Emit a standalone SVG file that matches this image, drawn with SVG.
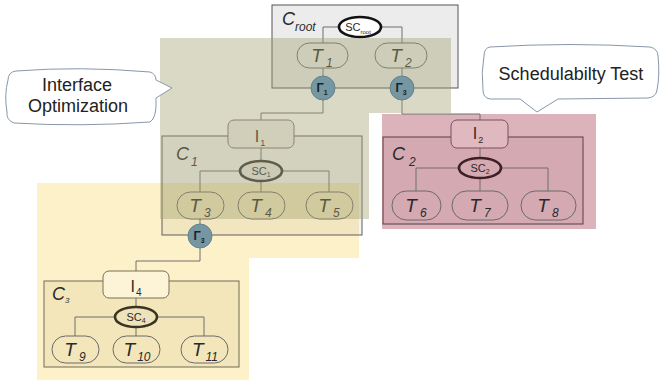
<svg xmlns="http://www.w3.org/2000/svg" width="661" height="383" viewBox="0 0 661 383">
<style>
text{font-family:"Liberation Sans",Arial,sans-serif;fill:#2a2a2a}
.tk{fill:none;stroke:#6a6a6a;stroke-width:1}
.tl{font-size:19px;font-style:italic;text-anchor:middle}
.ts{font-size:12px}
.il{font-size:16px;text-anchor:middle}
.sc{stroke-width:2.6}
.scl{font-size:11px;text-anchor:middle}
.gm{fill:#7696a2;stroke:#64838f;stroke-width:1}
.gl{font-size:12px;font-weight:bold;fill:#15252b;text-anchor:middle}
.ln{fill:none;stroke:#6e6e6e;stroke-width:1}
.bub{fill:#ffffff;stroke:#8797ab;stroke-width:1}
.bt{font-size:18px;text-anchor:middle;fill:#222}
.cl{font-style:italic;font-size:18px}
</style>

<!-- background regions -->
<rect x="382" y="114" width="214" height="115" fill="#dcb3bb"/>
<polygon points="37,183 359,183 359,258 249,258 249,380 37,380" fill="#fdf1c9"/>

<!-- container boxes -->
<g id="C_root">
<rect x="272" y="5" width="186" height="83" fill="#ececec" stroke="#555" stroke-width="1"/>
<text class="cl" x="282" y="25">C<tspan font-size="12" dy="6">root</tspan></text>
</g>
<g id="C_1">
<rect x="162" y="136" width="200" height="99" fill="rgba(0,0,0,0.045)" stroke="#5e5e5e" stroke-width="1"/>
<text class="cl" x="176" y="160">C<tspan font-size="12" dy="6" dx="2">1</tspan></text>
</g>
<g id="C_2">
<rect x="383" y="137" width="200" height="87" fill="rgba(90,20,40,0.06)" stroke="#5e3a42" stroke-width="1"/>
<text class="cl" x="392" y="160" fill="#3a2228">C<tspan font-size="12" dy="6" dx="4">2</tspan></text>
</g>
<g id="C_3">
<rect x="44" y="281" width="195" height="86" fill="rgba(120,90,20,0.07)" stroke="#6f6a55" stroke-width="1"/>
<text class="cl" x="52" y="300" font-size="12">C<tspan font-size="8" dy="3">3</tspan></text>
</g>

<!-- connectors -->
<g id="connectors">
<path class="ln" d="M323 43 V27 H402 V43"/>
<path class="ln" d="M323 68 V113 H261 V120"/>
<path class="ln" d="M402 68 V114 H480 V120"/>
<path class="ln" d="M261 148 V171"/>
<path class="ln" d="M200 192 V171 H329 V192 M261 171 V192"/>
<path class="ln" d="M200 219 V261 H136 V271"/>
<path class="ln" stroke="#5e3a42" d="M480 148 V168 M416 191 V168 H548 V191 M480 168 V191"/>
<path class="ln" stroke="#6f6a55" d="M136 298 V317 M75 336 V317 H204 V336 M136 317 V336"/>
</g>

<!-- root nodes -->
<g id="SC_root">
<ellipse cx="360" cy="27" rx="21" ry="10" fill="#fff" stroke="#111" class="sc"/>
<text class="scl" x="358" y="31">SC<tspan font-size="6" dy="3">root</tspan></text>
</g>
<g id="T1">
<rect class="tk" x="297" y="43" width="51" height="25" rx="12.5"/>
<text class="tl" x="322" y="62">T<tspan class="ts" dx="3" dy="5">1</tspan></text>
</g>
<g id="T2">
<rect class="tk" x="375" y="43" width="52" height="25" rx="12.5"/>
<text class="tl" x="401" y="62">T<tspan class="ts" dx="3" dy="5">2</tspan></text>
</g>

<!-- C1 nodes -->
<g id="I1">
<rect x="228" y="120" width="66" height="28" rx="6" fill="#f0efec" stroke="#777"/>
<text class="il" x="260" y="142">I<tspan font-size="9" dx="1" dy="4">1</tspan></text>
</g>
<g id="SC1">
<ellipse cx="261" cy="171" rx="21" ry="10" fill="#e6e6e6" stroke="#333" class="sc"/>
<text class="scl" x="261" y="175">SC<tspan font-size="7" dy="2">1</tspan></text>
</g>
<g id="T3">
<rect class="tk" x="177" y="192" width="47" height="27" rx="13.5"/>
<text class="tl" x="200" y="212">T<tspan class="ts" dx="3" dy="5">3</tspan></text>
</g>
<g id="T4">
<rect class="tk" x="238" y="192" width="47" height="27" rx="13.5"/>
<text class="tl" x="261" y="212">T<tspan class="ts" dx="3" dy="5">4</tspan></text>
</g>
<g id="T5">
<rect class="tk" x="306" y="192" width="47" height="27" rx="13.5"/>
<text class="tl" x="329" y="212">T<tspan class="ts" dx="3" dy="5">5</tspan></text>
</g>

<!-- C2 nodes -->
<g id="I2">
<rect x="451" y="120" width="57" height="28" rx="6" fill="#dfb8c0" stroke="#7a5058"/>
<text class="il" x="478" y="139" fill="#3a2228">I<tspan font-size="9" dx="1" dy="4">2</tspan></text>
</g>
<g id="SC2">
<ellipse cx="480" cy="168" rx="21" ry="10" fill="#d4a9b1" stroke="#3e1f24" class="sc"/>
<text class="scl" x="480" y="172" fill="#3a2228">SC<tspan font-size="7" dy="2">2</tspan></text>
</g>
<g id="T6">
<rect class="tk" stroke="#7a5058" x="392" y="191" width="49" height="29" rx="14.5"/>
<text class="tl" x="416" y="212" fill="#2e1a1e">T<tspan class="ts" dx="3" dy="5">6</tspan></text>
</g>
<g id="T7">
<rect class="tk" stroke="#7a5058" x="452" y="191" width="56" height="29" rx="14.5"/>
<text class="tl" x="480" y="212" fill="#2e1a1e">T<tspan class="ts" dx="3" dy="5">7</tspan></text>
</g>
<g id="T8">
<rect class="tk" stroke="#7a5058" x="521" y="191" width="55" height="29" rx="14.5"/>
<text class="tl" x="548" y="212" fill="#2e1a1e">T<tspan class="ts" dx="3" dy="5">8</tspan></text>
</g>

<!-- C3 nodes -->
<g id="I4">
<rect x="103" y="271" width="66" height="27" rx="6" fill="#fdf4d8" stroke="#777055"/>
<text class="il" x="136" y="292" font-size="17">I<tspan font-size="10" dx="1" dy="4">4</tspan></text>
</g>
<g id="SC4">
<ellipse cx="136" cy="317" rx="21" ry="10" fill="#efe3bb" stroke="#3a3520" class="sc"/>
<text class="scl" x="136" y="321">SC<tspan font-size="7" dy="2">4</tspan></text>
</g>
<g id="T9">
<rect class="tk" stroke="#7a7358" x="52" y="336" width="47" height="27" rx="13.5"/>
<text class="tl" x="75" y="356">T<tspan class="ts" dx="3" dy="5">9</tspan></text>
</g>
<g id="T10">
<rect class="tk" stroke="#7a7358" x="113" y="336" width="47" height="27" rx="13.5"/>
<text class="tl" x="137" y="356">T<tspan class="ts" dx="2" dy="5">10</tspan></text>
</g>
<g id="T11">
<rect class="tk" stroke="#7a7358" x="181" y="336" width="47" height="27" rx="13.5"/>
<text class="tl" x="205" y="356">T<tspan class="ts" dx="2" dy="5">11</tspan></text>
</g>

<!-- olive overlay -->
<polygon points="160,38 451,38 451,113 369,113 369,219 160,219" fill="#a3a16e" opacity="0.4"/>

<!-- interface nodes -->
<g id="Gamma1">
<circle class="gm" cx="323" cy="88" r="12"/>
<text class="gl" x="322" y="92">Γ<tspan font-size="7" dy="3">1</tspan></text>
</g>
<g id="Gamma3_root">
<circle class="gm" cx="402" cy="88" r="12"/>
<text class="gl" x="401" y="92">Γ<tspan font-size="7" dy="3">3</tspan></text>
</g>
<g id="Gamma3_c1">
<circle class="gm" cx="200" cy="236" r="12"/>
<text class="gl" x="199" y="240">Γ<tspan font-size="7" dy="3">3</tspan></text>
</g>

<!-- callouts -->
<g id="callout_interface">
<path class="bub" d="M16 71 Q80 66 150 72 Q156 74 156 80 L172 88 L156 98 Q157 118 150 122 Q80 127 14 123 Q6 120 7 112 Q4 95 8 80 Q8 72 16 71 Z"/>
<text class="bt" x="77" y="91">Interface</text>
<text class="bt" x="78" y="112">Optimization</text>
</g>
<g id="callout_sched">
<path class="bub" d="M490 47 Q570 42 650 47 Q658 49 658 56 Q660 75 657 90 Q656 97 648 98 L558 99 L537 112 L520 99 L490 99 Q483 98 483 90 Q481 72 484 56 Q484 48 490 47 Z"/>
<text class="bt" x="571" y="80">Schedulabilty Test</text>
</g>
</svg>
